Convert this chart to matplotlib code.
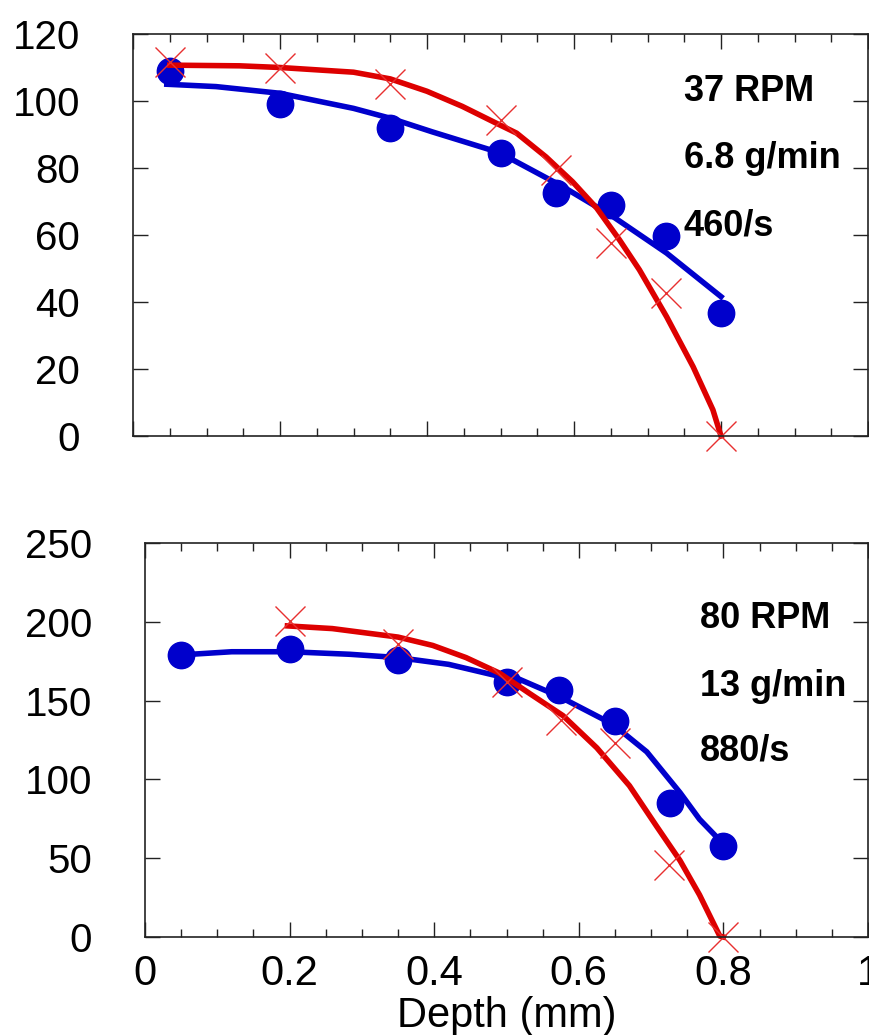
import matplotlib
matplotlib.use("agg")
import matplotlib.pyplot as plt

plt.rcParams['font.family'] = ['Liberation Sans', 'DejaVu Sans']

# top panel: 37 RPM
x_pts = [0.05, 0.2, 0.35, 0.5, 0.575, 0.65, 0.725, 0.8]
top_blue = [109, 99, 92, 84.5, 72.5, 69, 59.7, 36.7]
top_red = [111.6, 110, 105, 94.3, 79.4, 57.6, 42.7, 0]

top_blue_fit_x = [0.046, 0.113, 0.2, 0.3, 0.351, 0.407, 0.494, 0.517, 0.585, 0.653, 0.726, 0.8]
top_blue_fit_y = [105, 104.3, 102.3, 97.8, 94.8, 90.8, 84.9, 82.4, 74.4, 65.5, 54.6, 41.6]
top_red_fit_x = [0.05, 0.145, 0.2, 0.3, 0.35, 0.4, 0.448, 0.494, 0.522, 0.562, 0.598,
                 0.631, 0.662, 0.689, 0.726, 0.762, 0.789, 0.8]
top_red_fit_y = [110.7, 110.5, 110, 108.6, 106.6, 102.9, 98.4, 93.4, 90.4, 83.3, 75.9,
                 68, 58.5, 49.6, 35.6, 20.7, 7.8, 0]

# bottom panel: 80 RPM
bot_x_blue = [0.05, 0.2, 0.35, 0.5, 0.573, 0.65, 0.726, 0.8]
bot_blue = [179, 182.5, 176, 162, 156.5, 137, 85, 58]
bot_x_red = [0.2, 0.35, 0.5, 0.575, 0.65, 0.725, 0.8]
bot_red = [200.6, 186, 162, 138, 123, 46, 0]

bot_blue_fit_x = [0.05, 0.12, 0.2, 0.283, 0.35, 0.42, 0.49, 0.508, 0.573, 0.647, 0.694,
                  0.74, 0.767, 0.8]
bot_blue_fit_y = [179, 181, 181, 179.4, 177.3, 173, 165.4, 165.5, 152.6, 135, 117.5,
                  91.6, 74.7, 59]
bot_red_fit_x = [0.197, 0.259, 0.35, 0.398, 0.444, 0.49, 0.532, 0.578, 0.625, 0.67,
                 0.708, 0.74, 0.767, 0.795, 0.8]
bot_red_fit_y = [197.4, 195.7, 190.3, 185, 177.3, 167.5, 154.5, 140.5, 120, 96,
                 70, 48.5, 26.7, 0.6, 0]

x_ticks = [0, 0.2, 0.4, 0.6, 0.8, 1]
x_labels = ['0', '0.2', '0.4', '0.6', '0.8', '1']
x_minor = [0.05 * i for i in range(21)]
top_yticks = [0, 20, 40, 60, 80, 100, 120]
bot_yticks = [0, 50, 100, 150, 200, 250]

blue = '#0000cc'
red = '#dd0000'

fig = plt.figure(figsize=(8.69, 10.35), dpi=100)
ax1 = fig.add_axes([133/869, 1 - 436/1035, 735/869, 402/1035])
ax2 = fig.add_axes([145/869, 1 - 937/1035, 723/869, 394/1035])


def style(ax, yticks):
    ax.set_xlim(0, 1)
    ax.set_ylim(yticks[0], yticks[-1])
    ax.set_xticks(x_ticks)
    ax.set_xticks(x_minor, minor=True)
    ax.set_yticks(yticks)
    ax.set_yticklabels([str(v) for v in yticks])
    ax.tick_params(which='both', direction='in', top=True, right=True,
                   color='#222222', width=1)
    ax.tick_params(which='major', length=11)
    ax.tick_params(which='minor', length=6)
    ax.tick_params(axis='y', labelsize=29, pad=38)
    ax.tick_params(axis='x', labelsize=30, pad=12)
    for s in ax.spines.values():
        s.set_color('#222222')
        s.set_linewidth(1.2)


# top
ax1.plot(top_blue_fit_x, top_blue_fit_y, color=blue, lw=4)
ax1.plot(x_pts, top_blue, 'o', color=blue, ms=19, clip_on=False)
ax1.plot(top_red_fit_x, top_red_fit_y, color=red, lw=4, clip_on=False)
ax1.plot(x_pts, top_red, 'x', color='#e83030', ms=22, mew=1, clip_on=False)
style(ax1, top_yticks)
ax1.set_xticklabels([])
ax1.text(0.749, 100, '37 RPM', fontsize=26, fontweight='bold')
ax1.text(0.749, 80, '6.8 g/min', fontsize=26, fontweight='bold')
ax1.text(0.749, 60, '460/s', fontsize=26, fontweight='bold')

# bottom
ax2.plot(bot_blue_fit_x, bot_blue_fit_y, color=blue, lw=4)
ax2.plot(bot_x_blue, bot_blue, 'o', color=blue, ms=19, clip_on=False)
ax2.plot(bot_red_fit_x, bot_red_fit_y, color=red, lw=4, clip_on=False)
ax2.plot(bot_x_red, bot_red, 'x', color='#e83030', ms=22, mew=1, clip_on=False)
style(ax2, bot_yticks)
ax2.set_xticklabels(x_labels)
ax2.text(0.767, 196, '80 RPM', fontsize=26, fontweight='bold')
ax2.text(0.767, 153, '13 g/min', fontsize=26, fontweight='bold')
ax2.text(0.767, 112, '880/s', fontsize=26, fontweight='bold')
ax2.set_xlabel('Depth (mm)', fontsize=30, labelpad=2)

fig.savefig('out.png', dpi=100)
